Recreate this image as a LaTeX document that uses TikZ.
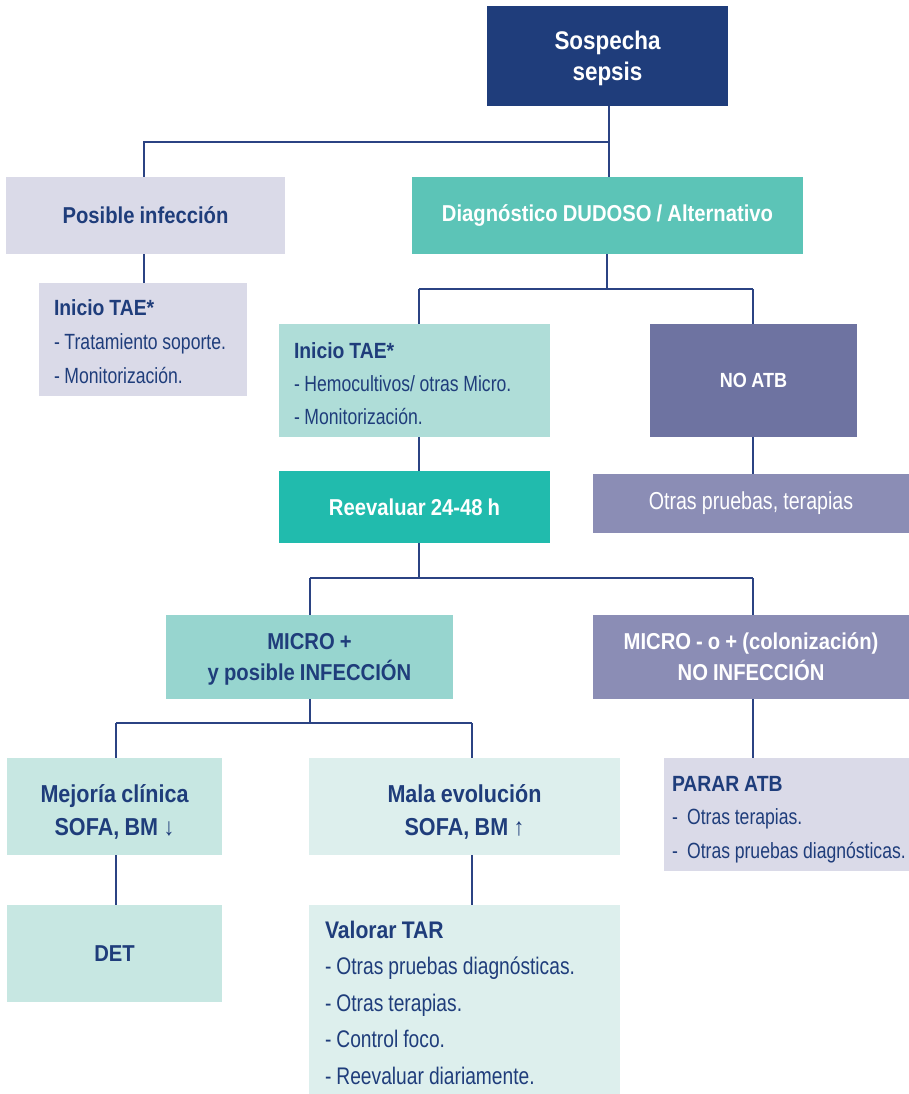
\documentclass[tikz,border=0pt]{standalone}
\usepackage{fontspec}
\newfontfamily\regfont[FakeStretch=0.8,WordSpace=0.95]{Liberation Sans}
\newfontfamily\boldfont[FakeStretch=0.88,WordSpace=0.9]{Liberation Sans Bold}
\definecolor{navy}{HTML}{1F3D7B}
\definecolor{linkc}{HTML}{2B4383}
\definecolor{lavender}{HTML}{DADAE8}
\definecolor{tealmid}{HTML}{5CC4B7}
\definecolor{tealpale}{HTML}{AFDDD8}
\definecolor{tealstrong}{HTML}{21BBAD}
\definecolor{tealmicro}{HTML}{97D5CF}
\definecolor{tealsoft}{HTML}{C7E7E2}
\definecolor{tealfaint}{HTML}{DDEFED}
\definecolor{violetdark}{HTML}{6E73A1}
\definecolor{violetmid}{HTML}{8B8DB5}
\tikzset{
  box/.style={rectangle, draw=none, inner sep=0pt},
  ctitle/.style={box, align=center, font=\fontsize{23}{31}\selectfont\boldfont},
  listtext/.style={anchor=west, inner sep=0pt, align=left, text=navy, font=\fontsize{22}{34}\selectfont\regfont},
  link/.style={draw=linkc, line width=2pt},
}
\begin{document}
\begin{tikzpicture}[x=1pt, y=-1pt]
\useasboundingbox[fill=white] (0,0) rectangle (909,1094);

% top level
\node[box, fill=navy, minimum width=241, minimum height=100] (sos) at (607.5,56) {};
\node[ctitle, text=white, font=\fontsize{25.5}{31}\selectfont\boldfont] (sost) at ([yshift=-2.5pt]sos.center) {Sospecha\\sepsis};
\node[ctitle, fill=lavender, text=navy, minimum width=279, minimum height=77] (pos) at (145.5,215.5) {Posible infección};
\node[ctitle, fill=tealmid, text=white, minimum width=391, minimum height=77] (diag) at (607.5,215.5) {Diagnóstico DUDOSO / Alternativo};

% second level
\node[box, fill=lavender, minimum width=208, minimum height=113] (iniL) at (143,339.5) {};
\node[listtext] (iniLt) at ([xshift=15pt,yshift=-2pt]iniL.west)
  {{\boldfont Inicio TAE*}\\- Tratamiento soporte.\\- Monitorización.};
\node[box, fill=tealpale, minimum width=271, minimum height=113] (iniM) at (414.5,380.5) {};
\node[listtext, font=\fontsize{22}{33}\selectfont\regfont] (iniMt) at ([xshift=15pt,yshift=-3pt]iniM.west)
  {{\boldfont Inicio TAE*}\\- Hemocultivos/ otras Micro.\\- Monitorización.};
\node[ctitle, fill=violetdark, text=white, minimum width=207, minimum height=113, font=\fontsize{20.5}{31}\selectfont\boldfont] (noatb) at (753.5,380.5) {NO ATB};
\node[box, fill=violetmid, text=white, font=\fontsize{24.5}{30}\selectfont\regfont, minimum width=316, minimum height=59] (otras) at (751,503.5) {Otras pruebas, terapias};
\node[ctitle, fill=tealstrong, text=white, minimum width=271, minimum height=72] (reev) at (414.5,507) {Reevaluar 24-48 h};

% micro results
\node[box, fill=tealmicro, minimum width=287, minimum height=84] (micp) at (309.5,657) {};
\node[ctitle, text=navy] (micpt) at ([yshift=-2pt]micp.center) {MICRO +\\y posible INFECCIÓN};
\node[ctitle, fill=violetmid, text=white, minimum width=316, minimum height=84] (micm) at (751,657) {MICRO - o + (colonización)\\NO INFECCIÓN};

% evolution
\node[box, fill=tealsoft, minimum width=215, minimum height=97] (mej) at (114.5,806.5) {};
\node[ctitle, text=navy, font=\fontsize{24.5}{33}\selectfont\boldfont] (mejt) at ([yshift=-5pt]mej.center) {Mejoría clínica\\SOFA, BM ↓};
\node[box, fill=tealfaint, minimum width=311, minimum height=97] (mala) at (464.5,806.5) {};
\node[ctitle, text=navy, font=\fontsize{24.5}{33}\selectfont\boldfont] (malat) at ([yshift=-5pt]mala.center) {Mala evolución\\SOFA, BM ↑};
\node[box, fill=lavender, minimum width=245, minimum height=113] (parar) at (786.5,814.5) {};
\node[listtext, font=\fontsize{22}{33.5}\selectfont\regfont] (parart) at ([xshift=8pt,yshift=-5pt]parar.west)
  {{\boldfont PARAR ATB}\\-\ \ Otras terapias.\\-\ \ Otras pruebas diagnósticas.};
\node[ctitle, fill=tealsoft, text=navy, minimum width=215, minimum height=97] (det) at (114.5,953.5) {DET};
\node[box, fill=tealfaint, minimum width=311, minimum height=189] (val) at (464.5,999.5) {};
\node[listtext, font=\fontsize{24}{36.5}\selectfont\regfont] (valt) at ([xshift=16pt,yshift=-3pt]val.west)
  {{\boldfont Valorar TAR}\\- Otras pruebas diagnósticas.\\- Otras terapias.\\- Control foco.\\- Reevaluar diariamente.};

% junction points of the connectors
\coordinate (j1) at (609,142);
\coordinate (j2) at (607,289);
\coordinate (j3) at (419,578);
\coordinate (j4) at (310,723);
\coordinate (xL1) at (144,0);
\coordinate (xM) at (419,0);
\coordinate (xR) at (753,0);
\coordinate (xL2) at (116,0);
\coordinate (xM2) at (472,0);

% connectors
\draw[link] (sos.south -| j1) -- (j1) -- (j1 -| xL1) -- (pos.north -| xL1);
\draw[link] (j1) -- (diag.north -| j1);
\draw[link] (pos.south -| xL1) -- (iniL.north -| xL1);
\draw[link] (diag.south -| j2) -- (j2);
\draw[link] (j2 -| xM) -- (j2 -| xR);
\draw[link] (j2 -| xM) -- (iniM.north -| xM);
\draw[link] (j2 -| xR) -- (noatb.north -| xR);
\draw[link] (iniM.south -| xM) -- (reev.north -| xM);
\draw[link] (noatb.south -| xR) -- (otras.north -| xR);
\draw[link] (reev.south -| j3) -- (j3);
\draw[link] (j3 -| j4) -- (j3 -| xR);
\draw[link] (j3 -| j4) -- (micp.north -| j4);
\draw[link] (j3 -| xR) -- (micm.north -| xR);
\draw[link] (micp.south -| j4) -- (j4);
\draw[link] (j4 -| xL2) -- (j4 -| xM2);
\draw[link] (j4 -| xL2) -- (mej.north -| xL2);
\draw[link] (j4 -| xM2) -- (mala.north -| xM2);
\draw[link] (micm.south -| xR) -- (parar.north -| xR);
\draw[link] (mej.south -| xL2) -- (det.north -| xL2);
\draw[link] (mala.south -| xM2) -- (val.north -| xM2);
\end{tikzpicture}
\end{document}
